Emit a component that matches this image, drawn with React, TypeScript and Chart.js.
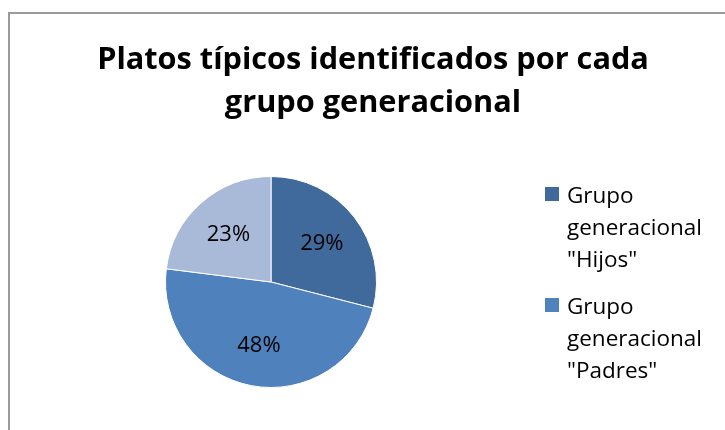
import React, { useEffect, useRef } from "react";
import { Chart, registerables } from "chart.js";

Chart.register(...registerables);

const titleLines = ["Platos típicos identificados por cada", "grupo generacional"];
const categories = ['Grupo generacional "Hijos"', 'Grupo generacional "Padres"', 'Grupo generacional "Abuelos"'];
const legendLines = [
  ["Grupo", "generacional", '"Hijos"'],
  ["Grupo", "generacional", '"Padres"'],
];
const values = [29, 48, 23];
const percentLabels = ["29%", "48%", "23%"];
const colors = ["#40699C", "#4F81BD", "#A9B9D8"];

const FONT = '"Open Sans", "DejaVu Sans", sans-serif';

const decorPlugin = {
  id: "decor",
  afterDatasetsDraw(chart: any) {
    const ctx = chart.ctx as CanvasRenderingContext2D;
    ctx.save();
    // data labels
    const meta = chart.getDatasetMeta(0);
    ctx.fillStyle = "#000";
    ctx.font = `22px ${FONT}`;
    ctx.textAlign = "center";
    ctx.textBaseline = "middle";
    meta.data.forEach((arc: any, i: number) => {
      const { x, y, startAngle, endAngle, outerRadius } = arc.getProps(
        ["x", "y", "startAngle", "endAngle", "outerRadius"],
        true
      );
      const mid = (startAngle + endAngle) / 2;
      const d = outerRadius * 0.61;
      ctx.fillText(percentLabels[i], x + Math.cos(mid) * d, y + Math.sin(mid) * d + 1);
    });
    // title
    ctx.font = `bold 30.7px ${FONT}`;
    ctx.textBaseline = "alphabetic";
    ctx.textAlign = "center";
    titleLines.forEach((t, i) => ctx.fillText(t, 373, 69 + i * 43));
    // legend
    ctx.textAlign = "left";
    ctx.font = `22.5px ${FONT}`;
    legendLines.forEach((lines, i) => {
      const base = 203 + i * 111;
      ctx.fillStyle = colors[i];
      ctx.fillRect(545, base - 16, 14, 14);
      ctx.fillStyle = "#000";
      lines.forEach((l, j) => ctx.fillText(l, 567, base + j * 32));
    });
    ctx.restore();
  },
};

export default function App() {
  const ref = useRef<HTMLCanvasElement>(null);
  useEffect(() => {
    if (!ref.current) return;
    const chart = new Chart(ref.current, {
      type: "pie",
      data: {
        labels: categories,
        datasets: [
          {
            data: values,
            backgroundColor: colors,
            borderColor: "#ffffff",
            borderWidth: 1,
          },
        ],
      },
      options: {
        responsive: false,
        animation: false,
        layout: { padding: { left: 165, right: 348, top: 176, bottom: 42 } },
        plugins: {
          legend: { display: false },
          title: { display: false },
          tooltip: { enabled: false },
        },
      },
      plugins: [decorPlugin],
    });
    return () => chart.destroy();
  }, []);
  return (
    <div
      style={{
        position: "fixed",
        left: 0,
        top: 0,
        width: 725,
        height: 430,
        overflow: "hidden",
        background: "#fff",
      }}
    >
      <div
        style={{
          position: "absolute",
          left: 8,
          top: 12,
          width: 800,
          height: 500,
          border: "2px solid #9a9a9a",
          boxSizing: "border-box",
        }}
      />
      <canvas
        ref={ref}
        width={725}
        height={430}
        style={{ position: "absolute", left: 0, top: 0 }}
      />
    </div>
  );
}
